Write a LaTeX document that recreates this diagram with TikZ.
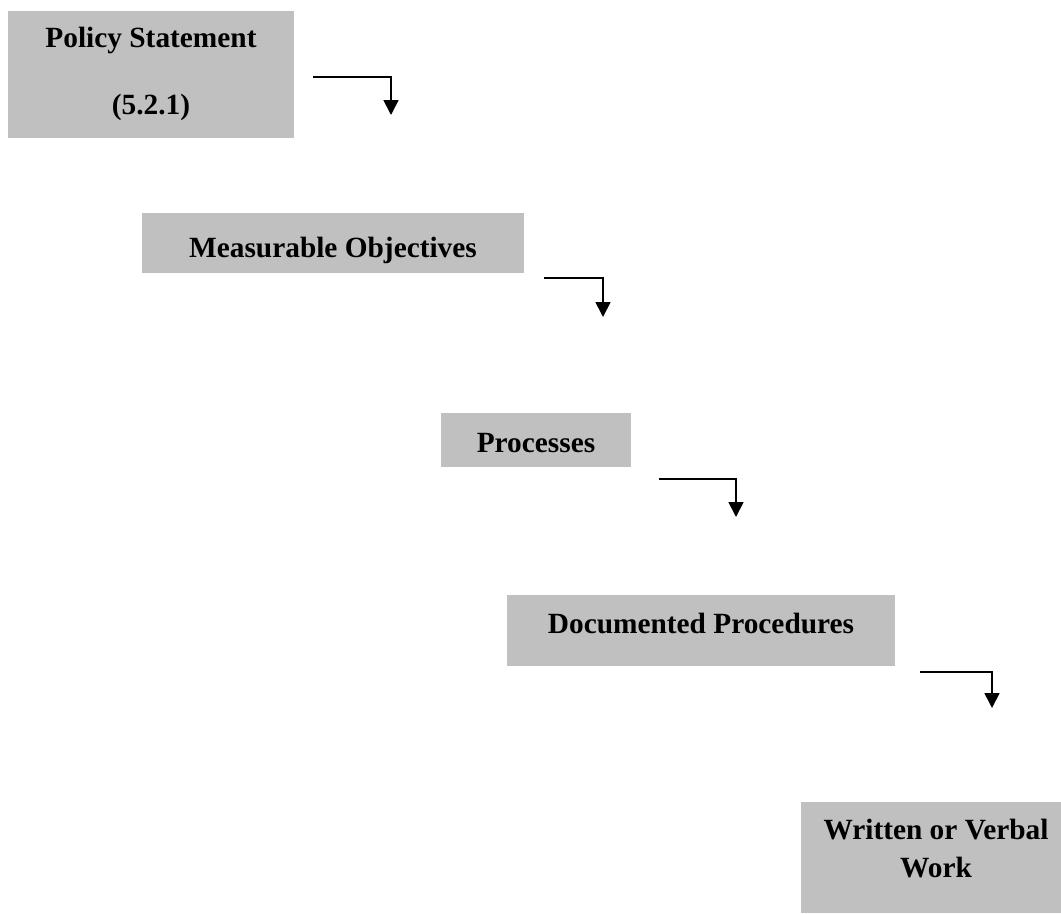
\documentclass[tikz,border=0pt]{standalone}
\usepackage{fontspec}
\setmainfont{Liberation Serif}
\usepackage{tikz}
\usetikzlibrary{positioning,arrows.meta,fit}
\definecolor{boxgrey}{RGB}{192,192,192}
\tikzset{
  card/.style={fill=boxgrey, draw=none, inner sep=0pt},
  cardtext/.style={align=center, inner sep=0pt},
  steparrow/.style={line width=1pt, -{Triangle[width=8.5pt,length=8.5pt]}}
}
\newcommand{\stepbox}[3]{%
  \node[card, fit={(#2) (#3)}] (#1) {};}
\newcommand{\steplink}[3]{%
  \coordinate (#1from) at (#2);
  \coordinate (#1to) at (#3);
  \draw[steparrow] (#1from) -| (#1to);}

\begin{document}
\begin{tikzpicture}[x=0.02cm, y=-0.02cm, font=\fontsize{16.7}{20}\selectfont\bfseries]
  \useasboundingbox (0,0) rectangle (1061,913);
  \stepbox{policy}{8,11}{294,138}
  \node[cardtext] (policyText) at (151,74) {Policy Statement\\[18pt](5.2.1)};
  \stepbox{objectives}{142,213}{524,273}
  \node[cardtext] (objectivesText) at (333,250) {Measurable Objectives};
  \stepbox{processes}{441,413}{631,467}
  \node[cardtext] (processesText) at (536,443) {Processes};
  \stepbox{procedures}{507,595}{895,666}
  \node[cardtext] (proceduresText) at (701,623) {Documented Procedures};
  \stepbox{work}{801,802}{1061,913}
  \node[cardtext] (workText) at (936,849) {Written or Verbal\\[1.6pt]Work};
  % floating arrows between the steps
  \steplink{linkA}{313,77}{391,115}
  \steplink{linkB}{544,278}{603,317}
  \steplink{linkC}{659,479}{736,517}
  \steplink{linkD}{920,672}{992,708}
\end{tikzpicture}
\end{document}
